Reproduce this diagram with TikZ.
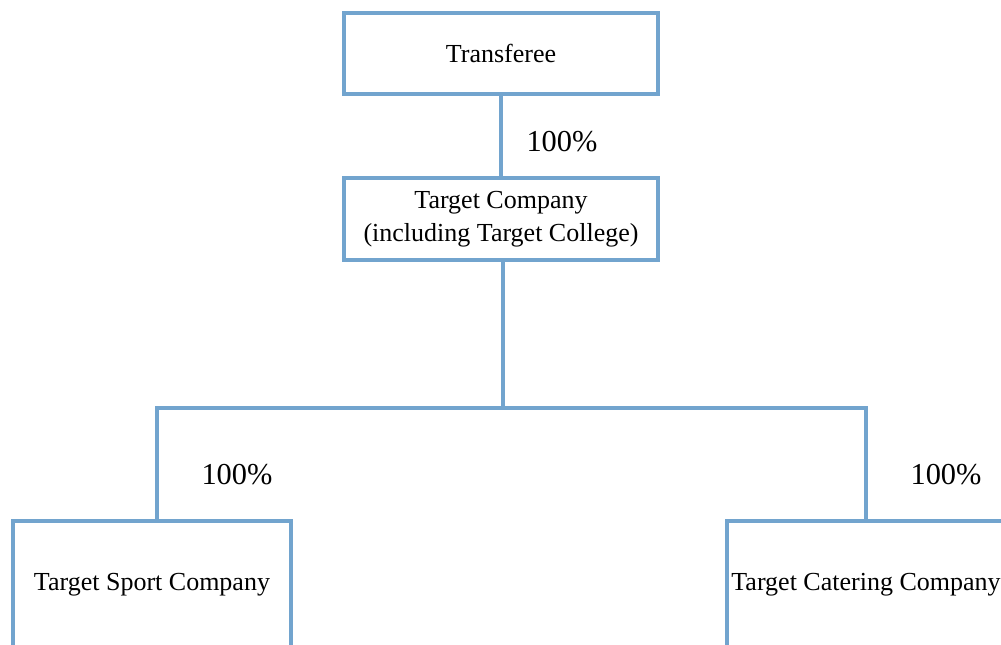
\documentclass[tikz,border=0pt]{standalone}
\usepackage{fontspec}
\setmainfont{Liberation Serif}
\definecolor{boxblue}{RGB}{114,164,206}
\begin{document}
\begin{tikzpicture}[x=0.02cm,y=-0.02cm]

\tikzstyle{orgbox} = [rectangle,draw=boxblue,line width=2.3pt,fill=white,align=center,inner sep=0pt,font=\fontsize{14.8}{18.7}\selectfont];%
\tikzstyle{share} = [font=\fontsize{17.3}{20}\selectfont];
\tikzstyle{link} = [-,draw=boxblue,line width=2.3pt];

\clip (0,0) rectangle (1001,645);
\useasboundingbox (0,0) rectangle (1001,645);

\node[orgbox,minimum width=6.28cm,minimum height=1.62cm] at (501,53.5) (tf) {Transferee};
\node[orgbox,minimum width=6.28cm,minimum height=1.64cm] at (501,219) (tc) {Target Company\\ (including Target College)};
\path (tf) edge[link] (tc);
\node[share] at (562,142) (p1) {100\%};

\node[orgbox,minimum width=5.56cm,minimum height=2.56cm] at (152,585) (sport) {Target Sport Company};
\node[orgbox,minimum width=5.56cm,minimum height=2.56cm] at (866,585) (cater) {Target Catering Company};

\coordinate (jc) at (503,408);
\coordinate (jl) at (157,408);
\coordinate (jr) at (866,408);
\path (tc.south -| jc) edge[link] (jc);
\draw[link,line cap=rect] (jl) -- (jr);
\path (jl) edge[link] (jl |- sport.north);
\path (jr) edge[link] (jr |- cater.north);

\node[share] at (237,475) (p2) {100\%};
\node[share] at (946,475) (p3) {100\%};

\end{tikzpicture}
\end{document}
